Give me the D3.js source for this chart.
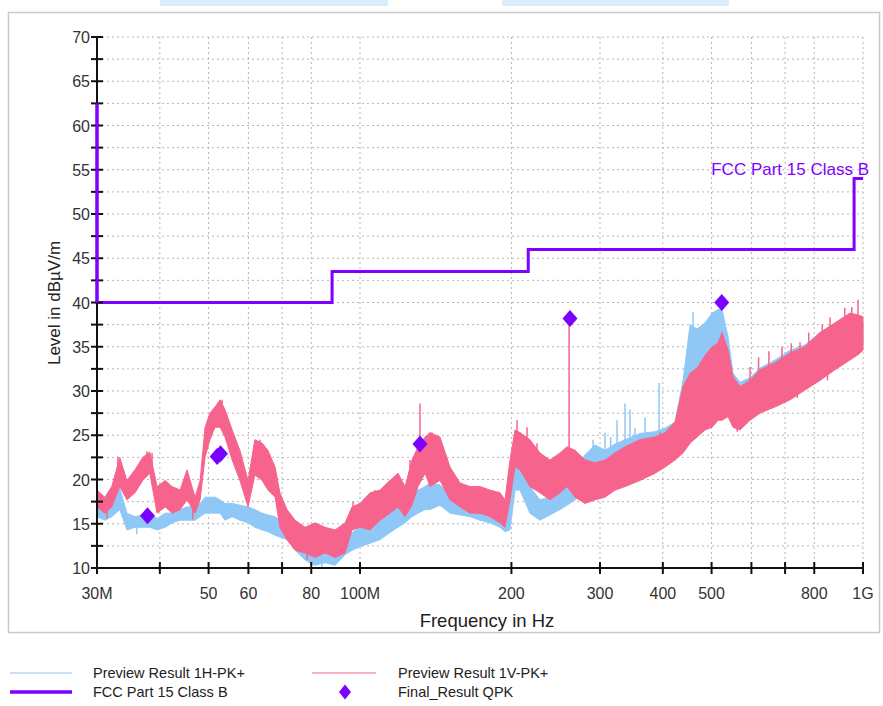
<!DOCTYPE html>
<html><head><meta charset="utf-8">
<script src="https://cdn.jsdelivr.net/npm/d3@7"></script>
<style>
body{margin:0;background:#fff;}
svg{display:block;font-family:Arial,"Liberation Sans",sans-serif;}
</style>
</head><body>
<svg id="chart" width="883" height="706"></svg>
<script>
// ---- data (MHz / dBµV/m) ----
const freqMHz = [30.0,31.1,32.1,33.3,34.4,35.7,37.0,38.2,39.5,41.0,42.3,43.9,45.3,47.0,48.1,49.2,50.3,51.5,52.7,53.9,55.7,57.7,59.9,61.8,63.9,65.6,67.8,69.3,71.6,74.3,77.8,81.4,85.2,89.2,93.4,96.4,100.0,104.7,109.6,114.7,119.0,122.9,126.9,130.4,134.7,137.8,144.2,151.0,158.1,165.5,173.2,181.3,189.8,194.2,198.7,203.3,208.0,217.7,227.9,238.6,249.8,258.0,267.6,280.1,293.3,307.0,321.3,336.4,360.4,386.0,404.1,423.0,438.8,453.1,467.8,485.3,501.1,515.0,524.5,539.2,551.6,569.6,596.3,624.2,668.5,716.0,766.8,821.3,879.5,942.0,977.3,1000];

const pinkHi = [18.8,18.0,19.2,22.5,19.9,21.1,22.5,23.1,19.2,19.9,19.2,18.8,21.1,18.0,19.9,25.9,27.5,28.2,29.0,27.9,25.6,23.3,19.9,24.5,24.1,23.3,21.4,18.5,16.6,15.4,14.6,15.1,14.6,14.3,15.1,16.9,17.3,18.5,18.8,19.9,20.7,19.2,22.2,23.7,24.8,25.3,24.8,21.4,19.6,19.2,19.2,18.8,18.5,17.7,22.2,25.6,25.3,24.5,23.0,22.2,23.0,23.7,23.3,22.2,21.9,22.2,23.0,23.7,24.5,24.8,25.3,26.5,30.5,32.0,32.6,34.0,35.0,35.4,36.6,34.6,31.6,30.5,31.2,32.4,33.2,34.3,35.0,36.6,37.7,38.8,38.6,38.4];
const pinkLo = [16.9,16.2,16.9,19.2,17.7,18.5,19.9,20.7,16.2,16.9,16.2,16.6,17.7,16.2,17.7,22.5,24.5,25.9,25.9,24.8,22.2,19.9,16.9,20.5,19.9,18.8,18.0,14.6,13.2,12.0,11.7,11.2,11.7,11.2,11.7,14.3,14.6,14.3,15.4,16.2,16.9,15.8,17.1,19.2,20.7,19.2,19.9,17.7,16.9,16.2,16.2,15.8,15.1,14.6,17.7,21.4,21.1,19.2,18.5,17.7,18.5,19.2,18.0,17.3,17.7,18.0,18.8,19.2,19.9,20.7,21.4,22.2,23.0,24.1,24.8,25.6,25.9,26.7,26.7,27.1,25.9,25.6,26.7,27.5,28.2,29.0,30.1,31.2,32.4,33.5,34.1,34.6];

const blueHi = [16.9,17.3,17.7,19.0,16.2,15.8,16.0,16.2,15.6,16.2,16.2,16.6,16.9,16.9,17.3,18.0,18.0,18.0,17.7,17.3,17.3,17.1,16.9,16.6,16.2,16.0,15.8,15.4,15.1,14.0,12.8,12.0,12.0,12.6,13.5,14.0,14.6,15.1,15.4,16.2,16.9,17.3,18.5,18.8,19.2,19.6,19.4,18.2,17.7,17.3,17.1,16.9,16.6,16.0,17.7,21.3,21.1,19.2,17.7,18.0,18.8,19.6,21.1,22.8,23.9,23.3,24.0,24.5,25.2,25.4,25.8,26.5,31.2,37.5,37.0,37.7,38.8,39.2,39.2,36.1,32.0,31.0,31.5,32.6,33.5,34.6,35.2,36.6,37.5,38.0,37.9,37.8];
const blueLo = [15.8,15.4,15.8,16.6,14.3,14.6,14.6,14.6,14.3,14.6,15.1,15.4,15.4,15.4,15.8,16.2,16.2,16.2,16.2,15.4,15.8,15.4,15.1,14.6,14.3,14.1,13.7,13.5,13.2,12.0,10.9,10.3,10.6,10.3,11.5,12.0,12.4,12.8,13.2,14.0,14.6,15.1,15.8,16.2,16.6,16.6,17.1,16.2,16.0,15.8,15.4,15.1,14.6,14.1,14.3,18.8,18.8,16.2,15.4,16.0,16.6,17.1,17.7,18.8,19.4,18.8,18.8,19.4,20.2,21.0,21.8,22.6,23.4,24.5,25.2,26.0,26.3,27.1,27.1,27.5,26.4,26.1,27.2,28.0,28.7,29.5,30.6,31.7,32.9,34.0,34.6,35.1];

// narrow spikes: frequency, start level, end level
const pinkSpikeFreq = [31.4,33.0,37.7,38.6,46.5,53.2,63.3,78.5,96.9,107.1,125.7,131.6,139.1,205.2,214.8,224.8,260.4,395.0,562.0,596.3,620.0,650.0,690.0,720.0,740.0,749.5,780.0,830.0,850.0,860.0,900.2,920.0,950.0,977.3];
const pinkSpikeBase = [17.5,19.5,20.5,20.5,17.5,26.0,21.0,13.0,15.0,16.0,19.0,23.0,22.0,23.0,22.0,21.0,22.0,22.0,27.5,28.0,31.0,31.5,32.0,32.5,32.0,31.0,33.5,34.5,34.0,35.0,34.0,36.0,36.5,37.0];
const pinkSpikePeak = [15.6,22.6,23.2,23.0,15.5,29.0,24.5,10.9,17.5,18.8,22.2,28.6,25.3,26.7,25.9,24.1,37.6,25.3,25.4,32.7,33.8,34.5,35.0,35.4,29.2,35.5,36.6,37.5,31.2,38.3,38.0,39.4,39.5,40.3];
const blueSpikeFreq = [33.2,36.0,84.0,290.6,300.0,307.0,315.0,324.3,336.4,344.2,352.0,368.7,393.2,459.3,480.8];
const blueSpikeBase = [16.5,15.0,11.5,21.0,21.5,22.0,22.0,22.5,23.0,23.0,23.0,23.5,24.0,30.0,30.0];
const blueSpikePeak = [19.0,13.8,9.9,24.5,23.6,25.3,24.8,26.7,28.6,27.9,25.8,27.0,30.9,38.9,37.4];

const limitFreq  = [30,30,88,88,216,216,960,960,1000];
const limitLevel = [62.5,40,40,43.5,43.5,46,46,54,54];

const qpkFreq  = [37.8,52.0,52.8,131.6,261.5,523.8];
const qpkLevel = [15.9,22.6,22.9,24.0,38.2,40.0];

const xTickValues = [30,40,50,60,70,80,100,200,300,400,500,600,700,800,1000];
const xTickLabels = ["30M","","50","60","","80","100M","200","300","400","500","","","800","1G"];
const yTickValues = [10,15,20,25,30,35,40,45,50,55,60,65,70];
const yMinorValues = [12.5,17.5,22.5,27.5,32.5,37.5,42.5,47.5,52.5,57.5,62.5,67.5];

const legendItems = ["Preview Result 1H-PK+","Preview Result 1V-PK+","FCC Part 15 Class B","Final_Result QPK"];

// ---- styling ----
const C_BLUE = "#8fc8f7", C_PINK = "#f6648d", C_LIMIT = "#7f00ff", C_QPK = "#7b00ff";
const svg = d3.select("#chart");
const x = d3.scaleLog().domain([30,1000]).range([97,863]);
const y = d3.scaleLinear().domain([10,70]).range([568,37]);

// top decorations & frame
svg.append("rect").attr("x",160).attr("y",0).attr("width",228).attr("height",6).attr("fill","#d9edfb");
svg.append("rect").attr("x",502).attr("y",0).attr("width",227).attr("height",6).attr("fill","#d9edfb");
svg.append("rect").attr("x",8.5).attr("y",12.5).attr("width",871).attr("height",620)
  .attr("fill","none").attr("stroke","#c9c9c9").attr("stroke-width",1.5);

// grid
const grid = svg.append("g").attr("stroke","#b5b5b5").attr("stroke-width",1).attr("stroke-dasharray","2,3");
yTickValues.concat(yMinorValues).filter(v=>v>10).forEach(v=>{
  grid.append("line").attr("x1",x(30)).attr("x2",x(1000)).attr("y1",y(v)).attr("y2",y(v));
});
xTickValues.filter(v=>v>30).forEach(v=>{
  grid.append("line").attr("x1",x(v)).attr("x2",x(v)).attr("y1",y(70)).attr("y2",y(10));
});

// traces
const rowsB = freqMHz.map((f,i)=>({f,hi:blueHi[i],lo:blueLo[i]}));
const rowsP = freqMHz.map((f,i)=>({f,hi:pinkHi[i],lo:pinkLo[i]}));
const area = d3.area().x(d=>x(d.f)).y0(d=>y(d.lo)).y1(d=>y(d.hi));
const gB = svg.append("g");
gB.append("path").datum(rowsB).attr("d",area).attr("fill",C_BLUE).attr("stroke",C_BLUE).attr("stroke-width",1);
blueSpikeFreq.forEach((f,i)=>{
  gB.append("line").attr("x1",x(f)).attr("x2",x(f)).attr("y1",y(blueSpikeBase[i])).attr("y2",y(blueSpikePeak[i]))
    .attr("stroke",C_BLUE).attr("stroke-width",1.5);
});
const gP = svg.append("g");
gP.append("path").datum(rowsP).attr("d",area).attr("fill",C_PINK).attr("stroke",C_PINK).attr("stroke-width",1);
pinkSpikeFreq.forEach((f,i)=>{
  gP.append("line").attr("x1",x(f)).attr("x2",x(f)).attr("y1",y(pinkSpikeBase[i])).attr("y2",y(pinkSpikePeak[i]))
    .attr("stroke",C_PINK).attr("stroke-width",1.5);
});

// limit line
const limitRows = limitFreq.map((f,i)=>({f,v:limitLevel[i]}));
svg.append("path").datum(limitRows)
  .attr("d",d3.line().x(d=>x(d.f)).y(d=>y(d.v)))
  .attr("fill","none").attr("stroke",C_LIMIT).attr("stroke-width",3);
svg.append("text").attr("x",869).attr("y",y(54)-4).attr("text-anchor","end")
  .attr("font-size",17).attr("fill",C_LIMIT).text("FCC Part 15 Class B");

// QPK diamonds
const diamond = "M0,-8.5L7.5,0L0,8.5L-7.5,0Z";
qpkFreq.forEach((f,i)=>{
  svg.append("path").attr("d",diamond).attr("transform",`translate(${x(f)},${y(qpkLevel[i])})`).attr("fill",C_QPK);
});

// axes
const axes = svg.append("g").attr("stroke","#111").attr("stroke-width",2);
axes.append("line").attr("x1",x(30)).attr("x2",x(30)).attr("y1",y(70)).attr("y2",y(10));
axes.append("line").attr("x1",x(30)).attr("x2",x(1000)+1).attr("y1",y(10)).attr("y2",y(10));
yTickValues.concat(yMinorValues).forEach(v=>{
  axes.append("line").attr("x1",x(30)-6).attr("x2",x(30)+6).attr("y1",y(v)).attr("y2",y(v));
});
xTickValues.forEach(v=>{
  axes.append("line").attr("x1",x(v)).attr("x2",x(v)).attr("y1",y(10)-6).attr("y2",y(10)+6);
});
// limit over the axis at 30 MHz
svg.append("line").attr("x1",x(30)).attr("x2",x(30)).attr("y1",y(62.5)).attr("y2",y(40))
  .attr("stroke",C_LIMIT).attr("stroke-width",3);

const lab = svg.append("g").attr("fill","#333").attr("font-size",16);
yTickValues.forEach(v=>{
  lab.append("text").attr("x",90).attr("y",y(v)+6).attr("text-anchor","end").text(v);
});
xTickValues.forEach((v,i)=>{
  if(xTickLabels[i]) lab.append("text").attr("x",x(v)).attr("y",599).attr("text-anchor","middle").text(xTickLabels[i]);
});
svg.append("text").attr("x",487).attr("y",627).attr("text-anchor","middle").attr("font-size",18.5).attr("fill","#222").text("Frequency in Hz");
svg.append("text").attr("transform","translate(60,303) rotate(-90)").attr("text-anchor","middle").attr("font-size",17).attr("fill","#222").text("Level in dBµV/m");

// legend
const lg = svg.append("g").attr("font-size",14.5).attr("fill","#222");
lg.append("line").attr("x1",10).attr("x2",72).attr("y1",673).attr("y2",673).attr("stroke",C_BLUE).attr("stroke-width",1.2);
lg.append("text").attr("x",93).attr("y",678).text(legendItems[0]);
lg.append("line").attr("x1",312).attr("x2",376).attr("y1",673).attr("y2",673).attr("stroke",C_PINK).attr("stroke-width",1.2);
lg.append("text").attr("x",398).attr("y",678).text(legendItems[1]);
lg.append("line").attr("x1",10).attr("x2",72).attr("y1",692).attr("y2",692).attr("stroke",C_LIMIT).attr("stroke-width",3.5);
lg.append("text").attr("x",93).attr("y",697).text(legendItems[2]);
lg.append("path").attr("d","M0,-7.5L6,0L0,7.5L-6,0Z").attr("transform","translate(345,692)").attr("fill",C_QPK);
lg.append("text").attr("x",398).attr("y",697).text(legendItems[3]);
</script>
</body></html>
